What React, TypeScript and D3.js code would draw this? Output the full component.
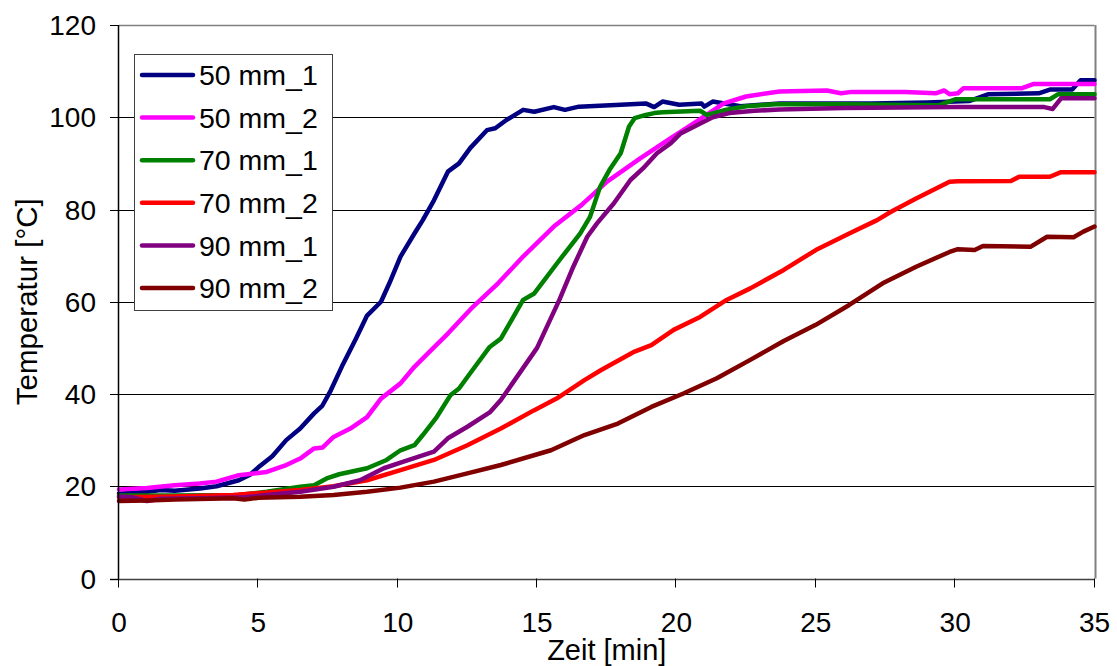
import React from "react";
import * as d3 from "d3";

const xTicks = [0, 5, 10, 15, 20, 25, 30, 35];
const yTicks = [0, 20, 40, 60, 80, 100, 120];
const seriesNames = ["50 mm_1", "50 mm_2", "70 mm_1", "70 mm_2", "90 mm_1", "90 mm_2"];
const seriesColors = ["#000080", "#FF00FF", "#008000", "#FF0000", "#800080", "#800000"];

const s50_1: [number, number][] = [[0,18.4],[1,18.8],[1.5,19.2],[2,19],[2.9,19.5],[3.5,20],[4.3,21.3],[4.7,22.5],[5,24.1],[5.5,26.5],[6,30],[6.5,32.5],[7,35.8],[7.3,37.5],[7.6,40.8],[8,46],[8.5,52],[8.9,57],[9.4,60],[9.7,64],[10.1,69.8],[10.6,74.8],[10.9,77.7],[11.3,82],[11.8,88.2],[12.2,90],[12.6,93.3],[13.2,97.2],[13.5,97.6],[13.9,99.4],[14.5,101.6],[14.9,101.2],[15.6,102.2],[16,101.6],[16.5,102.3],[18,102.7],[18.9,103],[19.2,102.2],[19.5,103.4],[20.1,102.7],[20.9,103],[21,102.3],[21.3,103.4],[22.3,102.4],[23.7,103],[25,103],[27,103],[29,103.2],[30.5,103.5],[31.2,105],[33,105.2],[33.4,106],[34.2,106],[34.5,108],[35,108]];
const s50_2: [number, number][] = [[0,19.3],[1,19.6],[2,20.2],[2.9,20.6],[3.5,21],[4.3,22.4],[5.3,23.1],[6,24.6],[6.5,26],[7,28.2],[7.3,28.4],[7.7,30.7],[8.3,32.5],[8.9,35],[9.4,39],[10.1,42.3],[10.6,45.9],[11.2,49.5],[11.8,53.1],[12.7,58.9],[13.6,64],[14.5,69.8],[15.6,76.3],[16.6,81],[17.5,86],[18.7,91.1],[19.7,95.1],[20.7,99],[21.7,103],[22.5,104.5],[23.7,105.6],[25.4,105.8],[25.9,105.2],[26.3,105.5],[28.2,105.5],[29.3,105.2],[29.6,105.8],[29.8,105],[30.1,105.2],[30.3,106.3],[32.4,106.3],[32.8,107.2],[35,107.2]];
const s70_1: [number, number][] = [[0,18],[2,18],[4.3,18.1],[5.3,18.8],[6.5,19.9],[7,20.2],[7.45,21.7],[7.9,22.6],[8.9,23.9],[9.6,25.7],[10.1,27.8],[10.6,28.9],[10.9,31.1],[11.4,35],[11.9,39.8],[12.2,41.2],[12.6,44.5],[13.3,50.2],[13.7,52],[14.15,56.7],[14.5,60.4],[14.9,61.8],[15.8,69],[16.55,74.8],[16.9,78.4],[17.26,84.9],[17.6,88.6],[18,92.2],[18.3,98],[18.5,99.8],[18.9,100.5],[19.2,100.9],[19.5,101.1],[20.85,101.4],[21.1,100.5],[21.7,101.5],[22.5,102.4],[23.5,102.8],[26,102.8],[29.4,102.6],[30,103.9],[33.4,103.9],[33.7,105],[35,105]];
const s70_2: [number, number][] = [[0,17.6],[2,17.8],[4.1,18.1],[6.5,19.2],[7.7,20],[8.9,21.3],[10.1,23.5],[11.3,25.7],[12.5,28.9],[13.7,32.5],[14.9,36.5],[15.7,39],[16.7,43],[17.3,45.2],[18.5,49.2],[19.1,50.6],[19.9,53.9],[20.85,56.7],[21.8,60.4],[22.65,62.9],[23.85,66.9],[25,71.2],[26.2,74.8],[27.2,77.7],[27.7,79.5],[28.6,82.4],[29.8,86],[30.1,86.1],[32,86.2],[32.3,87.1],[33.4,87.1],[33.8,88.1],[35,88.1]];
const s90_1: [number, number][] = [[0,17.8],[0.5,17.6],[1,16.8],[1.5,17.3],[3,17.4],[4.5,17.6],[6.5,18.8],[7.7,19.9],[8.65,21.3],[9.5,23.9],[10.1,25.1],[11.3,27.5],[11.8,30.4],[12.5,32.9],[13.3,36],[13.7,38.7],[15,50],[15.8,60.4],[16.3,67.6],[16.8,74.1],[17.15,77],[17.75,81.3],[18.35,86.4],[18.8,88.9],[19.3,92.2],[19.8,94.4],[20.15,96.5],[20.75,98.3],[21.3,100],[21.9,100.9],[22.8,101.4],[23.7,101.7],[26,102],[30,102.2],[33.2,102.2],[33.5,101.8],[33.8,104.1],[35,104.1]];
const s90_2: [number, number][] = [[0,16.8],[1,16.9],[2,17.1],[4.1,17.4],[4.5,17.1],[5,17.5],[6.5,17.7],[7.7,18.1],[8.9,18.8],[10.1,19.7],[11.3,21],[12.5,22.8],[13.7,24.6],[15.5,27.8],[16.7,31.1],[17.9,33.6],[19.1,37.2],[20.25,40.1],[21.45,43.4],[22.65,47.4],[23.85,51.5],[25,55],[26.2,59.3],[27.4,64],[28.6,67.6],[29.8,70.8],[30.1,71.4],[30.7,71.2],[31,72.1],[32.7,71.9],[33.3,74.1],[34.25,74],[34.6,75.2],[35,76.3]];

const seriesData = [s50_1, s50_2, s70_1, s70_2, s90_1, s90_2];

const W = 1117, H = 666;
const L = 119, R = 1094.5, T = 25, B = 578.5;
const FONT = "'Liberation Sans', Arial, sans-serif";

export default function App() {
  const x = d3.scaleLinear().domain([0, 35]).range([L, R]);
  const y = d3.scaleLinear().domain([0, 120]).range([B, T]);
  const line = d3.line<[number, number]>().x(d => x(d[0])).y(d => y(d[1]));
  const r = (v: number) => Math.round(v) + 0.5;

  return (
    <svg width={W} height={H} style={{ position: "absolute", left: 0, top: 0, background: "#fff" }} fontFamily={FONT}>
      <rect x={0} y={0} width={W} height={H} fill="#fff" />
      {yTicks.filter(v => v > 0 && v < 120).map(v => (
        <line key={"g" + v} x1={L} x2={R} y1={r(y(v))} y2={r(y(v))} stroke="#000" strokeWidth={1} />
      ))}
      <line x1={L} x2={R} y1={r(y(120))} y2={r(y(120))} stroke="#808080" strokeWidth={1.5} />
      <line x1={r(R)} x2={r(R)} y1={T} y2={B} stroke="#808080" strokeWidth={2} />
      {seriesData.map((d, i) => (
        <path key={seriesNames[i]} d={line(d) || ""} fill="none" stroke={seriesColors[i]} strokeWidth={4.5} strokeLinejoin="round" strokeLinecap="round" />
      ))}
      <line x1={r(L) - 1} x2={r(L) - 1} y1={T} y2={B + 1} stroke="#000" strokeWidth={1.5} />
      <line x1={L - 9} x2={R} y1={r(B)} y2={r(B)} stroke="#404040" strokeWidth={1.5} />
      {yTicks.map(v => (
        <g key={"yt" + v}>
          <line x1={L - 9} x2={L} y1={r(y(v))} y2={r(y(v))} stroke="#000" strokeWidth={1} />
          <text x={96} y={y(v)} dy="0.36em" textAnchor="end" fontSize={28} fill="#000">{v}</text>
        </g>
      ))}
      {xTicks.map(v => (
        <g key={"xt" + v}>
          <line x1={r(x(v)) - 1} x2={r(x(v)) - 1} y1={B} y2={B + 9} stroke="#000" strokeWidth={1} />
          <text x={x(v)} y={632} textAnchor="middle" fontSize={28} fill="#000">{v}</text>
        </g>
      ))}
      <text x={(L + R) / 2} y={660} textAnchor="middle" fontSize={29} fill="#000">Zeit [min]</text>
      <text transform={`translate(37,${(T + B) / 2}) rotate(-90)`} textAnchor="middle" fontSize={29.5} fill="#000">Temperatur [°C]</text>
      <rect x={134.5} y={54.5} width={198} height={256} fill="#fff" stroke="#404040" strokeWidth={1} />
      {seriesNames.map((n, i) => {
        const ly = 75 + i * 42.6;
        return (
          <g key={"lg" + n}>
            <line x1={142} x2={193} y1={ly} y2={ly} stroke={seriesColors[i]} strokeWidth={4.5} strokeLinecap="round" />
            <text x={199} y={ly} dy="0.36em" fontSize={28.5} fill="#000">{n}</text>
          </g>
        );
      })}
    </svg>
  );
}
